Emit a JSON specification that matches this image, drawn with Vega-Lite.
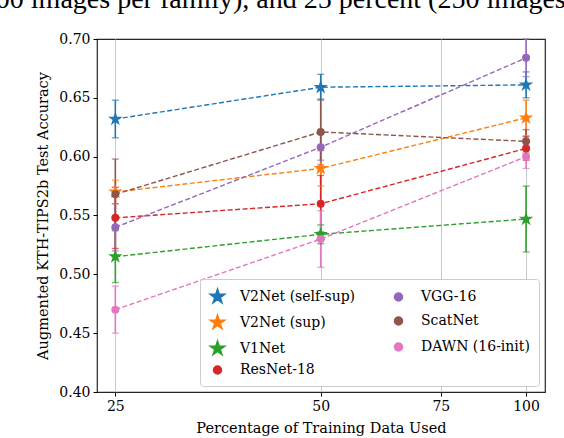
{
  "$schema": "https://vega.github.io/schema/vega-lite/v6.json",
  "width": 448,
  "height": 353,
  "autosize": "none",
  "padding": {"left": 97, "top": 39, "right": 19, "bottom": 46},
  "background": "white",
  "title": {
    "text": "00 images per family), and 25 percent (250 images",
    "font": "Liberation Serif",
    "fontSize": 28,
    "fontWeight": "normal",
    "anchor": "start",
    "dx": -40,
    "offset": 18,
    "color": "black"
  },
  "config": {
    "view": {"stroke": "#262626", "strokeWidth": 1.2},
    "font": "DejaVu Serif",
    "axis": {
      "domain": false,
      "tickColor": "black",
      "tickSize": 4,
      "labelFont": "DejaVu Serif",
      "labelFontSize": 14,
      "labelColor": "black",
      "labelPadding": 3,
      "titleFont": "DejaVu Serif",
      "titleFontSize": 14.5,
      "titleFontWeight": "normal",
      "titleColor": "black",
      "titlePadding": 8
    },
    "axisY": {"grid": false},
    "axisX": {"grid": true, "gridColor": "#c8c8c8", "gridWidth": 1}
  },
  "data": {
    "values": [
      {"series": "V2Net (self-sup)", "pct": 25, "acc": 0.632, "lo": 0.616, "hi": 0.648},
      {"series": "V2Net (self-sup)", "pct": 50, "acc": 0.659, "lo": 0.648, "hi": 0.670},
      {"series": "V2Net (self-sup)", "pct": 100, "acc": 0.661, "lo": 0.650, "hi": 0.672},
      {"series": "V2Net (sup)", "pct": 25, "acc": 0.570, "lo": 0.560, "hi": 0.580},
      {"series": "V2Net (sup)", "pct": 50, "acc": 0.590, "lo": 0.575, "hi": 0.605},
      {"series": "V2Net (sup)", "pct": 100, "acc": 0.633, "lo": 0.618, "hi": 0.648},
      {"series": "V1Net", "pct": 25, "acc": 0.515, "lo": 0.493, "hi": 0.537},
      {"series": "V1Net", "pct": 50, "acc": 0.534, "lo": 0.526, "hi": 0.542},
      {"series": "V1Net", "pct": 100, "acc": 0.547, "lo": 0.519, "hi": 0.575},
      {"series": "ResNet-18", "pct": 25, "acc": 0.548, "lo": 0.522, "hi": 0.574},
      {"series": "ResNet-18", "pct": 50, "acc": 0.560, "lo": 0.536, "hi": 0.584},
      {"series": "ResNet-18", "pct": 100, "acc": 0.607, "lo": 0.597, "hi": 0.617},
      {"series": "VGG-16", "pct": 25, "acc": 0.540, "lo": 0.520, "hi": 0.560},
      {"series": "VGG-16", "pct": 50, "acc": 0.608, "lo": 0.597, "hi": 0.619},
      {"series": "VGG-16", "pct": 100, "acc": 0.684, "lo": 0.668, "hi": 0.700},
      {"series": "ScatNet", "pct": 25, "acc": 0.568, "lo": 0.538, "hi": 0.598},
      {"series": "ScatNet", "pct": 50, "acc": 0.621, "lo": 0.593, "hi": 0.649},
      {"series": "ScatNet", "pct": 100, "acc": 0.613, "lo": 0.603, "hi": 0.623},
      {"series": "DAWN (16-init)", "pct": 25, "acc": 0.470, "lo": 0.450, "hi": 0.490},
      {"series": "DAWN (16-init)", "pct": 50, "acc": 0.530, "lo": 0.506, "hi": 0.554},
      {"series": "DAWN (16-init)", "pct": 100, "acc": 0.600, "lo": 0.590, "hi": 0.610}
    ]
  },
  "encoding": {
    "x": {
      "field": "pct",
      "type": "quantitative",
      "title": "Percentage of Training Data Used",
      "scale": {"type": "log", "domain": [23.5, 106.6], "nice": false},
      "axis": {"values": [25, 50, 75, 100], "format": "d"}
    },
    "color": {
      "field": "series",
      "type": "nominal",
      "title": null,
      "scale": {
        "domain": ["V2Net (self-sup)", "V2Net (sup)", "V1Net", "ResNet-18", "VGG-16", "ScatNet", "DAWN (16-init)"],
        "range": ["#1f77b4", "#ff7f0e", "#2ca02c", "#d62728", "#9467bd", "#8c564b", "#e377c2"]
      },
      "legend": {
        "orient": "bottom-right",
        "offset": 6,
        "columns": 2,
        "labelFont": "DejaVu Serif",
        "labelFontSize": 14,
        "labelColor": "black",
        "labelLimit": 250,
        "symbolSize": 90,
        "symbolOpacity": 1,
        "symbolType": "circle",
        "strokeColor": "#cccccc",
        "fillColor": "white",
        "padding": 9,
        "cornerRadius": 3,
        "rowPadding": 5,
        "columnPadding": 34,
        "labelOffset": 14
      }
    }
  },
  "layer": [
    {
      "mark": {"type": "rule", "strokeWidth": 1.6},
      "encoding": {
        "y": {
          "field": "lo",
          "type": "quantitative",
          "title": "Augmented KTH-TIPS2b Test Accuracy",
          "scale": {"domain": [0.4, 0.7], "nice": false, "zero": false},
          "axis": {"values": [0.4, 0.45, 0.5, 0.55, 0.6, 0.65, 0.7], "format": ".2f"}
        },
        "y2": {"field": "hi"}
      }
    },
    {
      "mark": {"type": "tick", "orient": "horizontal", "size": 7, "thickness": 1.3},
      "encoding": {
        "y": {"field": "lo", "type": "quantitative", "title": "Augmented KTH-TIPS2b Test Accuracy"}
      }
    },
    {
      "mark": {"type": "tick", "orient": "horizontal", "size": 7, "thickness": 1.3},
      "encoding": {
        "y": {"field": "hi", "type": "quantitative", "title": "Augmented KTH-TIPS2b Test Accuracy"}
      }
    },
    {
      "mark": {"type": "line", "strokeWidth": 1.4, "strokeDash": [5, 2.5]},
      "encoding": {
        "y": {"field": "acc", "type": "quantitative", "title": "Augmented KTH-TIPS2b Test Accuracy"},
        "detail": {"field": "series"}
      }
    },
    {
      "mark": {"type": "point", "filled": true, "opacity": 1},
      "encoding": {
        "y": {"field": "acc", "type": "quantitative", "title": "Augmented KTH-TIPS2b Test Accuracy"},
        "shape": {
          "field": "series",
          "type": "nominal",
          "legend": null,
          "scale": {
            "domain": ["V2Net (self-sup)", "V2Net (sup)", "V1Net", "ResNet-18", "VGG-16", "ScatNet", "DAWN (16-init)"],
            "range": [
              "M0,-1L0.225,-0.309L0.951,-0.309L0.363,0.118L0.588,0.809L0,0.382L-0.588,0.809L-0.363,0.118L-0.951,-0.309L-0.225,-0.309Z",
              "M0,-1L0.225,-0.309L0.951,-0.309L0.363,0.118L0.588,0.809L0,0.382L-0.588,0.809L-0.363,0.118L-0.951,-0.309L-0.225,-0.309Z",
              "M0,-1L0.225,-0.309L0.951,-0.309L0.363,0.118L0.588,0.809L0,0.382L-0.588,0.809L-0.363,0.118L-0.951,-0.309L-0.225,-0.309Z",
              "circle",
              "circle",
              "circle",
              "circle"
            ]
          }
        },
        "size": {
          "field": "series",
          "type": "nominal",
          "legend": null,
          "scale": {
            "type": "ordinal",
            "domain": ["V2Net (self-sup)", "V2Net (sup)", "V1Net", "ResNet-18", "VGG-16", "ScatNet", "DAWN (16-init)"],
            "range": [230, 230, 230, 64, 64, 64, 64]
          }
        }
      }
    }
  ]
}
